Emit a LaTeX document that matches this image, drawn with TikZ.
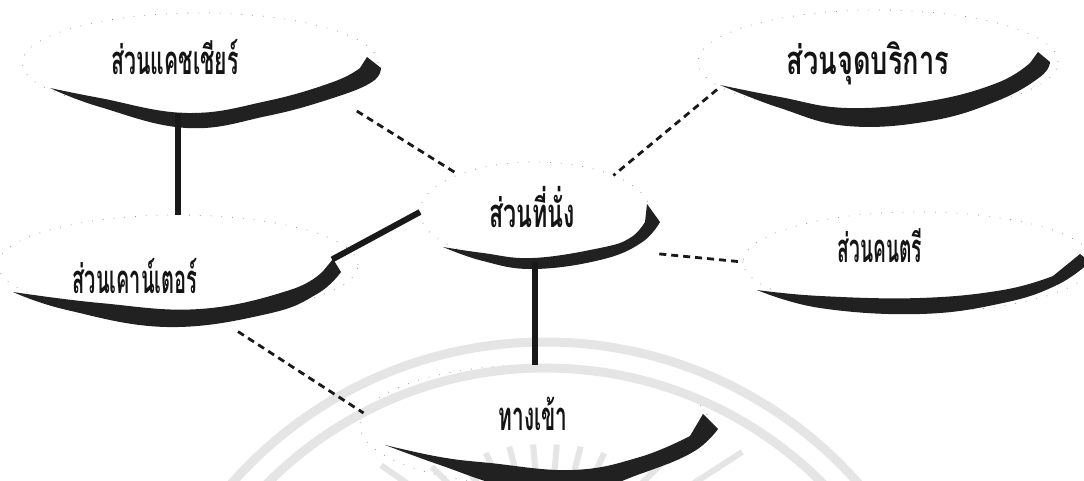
\documentclass[tikz,border=0pt]{standalone}
\usepackage{fontspec}
\newfontfamily\thaifont[Script=Thai]{Loma}
\usetikzlibrary{shapes.geometric}
\newcommand{\sq}[2]{\scalebox{#1}[1]{#2}}
\begin{document}
\begin{tikzpicture}[x=1pt,y=-1pt,
  zone/.style={ellipse, fill=white, draw=black!40, line width=0.8pt,
    dash pattern=on 0.8pt off 10pt, inner sep=0pt, outer sep=0pt},
  crescent/.style={fill=black!87},
  lbl/.style={font=\thaifont\bfseries\fontsize{40}{46}\selectfont, anchor=base,
    inner sep=0pt, text=black!92},
  solidlink/.style={line width=6pt, draw=black!90},
  dashlink/.style={line width=2.8pt, draw=black!90, dash pattern=on 7pt off 5pt},
  wm/.style={draw=black!10, line width=9pt},
  wmray/.style={draw=black!10, line width=6pt}
]
\useasboundingbox (0,0) rectangle (1084,481);
\clip (0,0) rectangle (1084,481);
\fill[white] (0,0) rectangle (1084,481);

% zones
\node[zone, minimum width=356pt, minimum height=100pt] (e1) at (200,63) {};
\node[zone, minimum width=360pt, minimum height=104pt] (e2) at (878,62) {};
\node[zone, minimum width=360pt, minimum height=100pt] (e3) at (178,265) {};
\node[zone, minimum width=230pt, minimum height=100pt] (e4) at (535,212) {};
\node[zone, minimum width=350pt, minimum height=100pt] (e5) at (918,262) {};
\node[zone, minimum width=350pt, minimum height=120pt] (e6) at (535,425) {};

% faint watermark (overlaid on the white zones)
\draw[wm] (545,760) circle[radius=418];
\draw[wm] (545,760) circle[radius=392];
\foreach \a/\r in {215/200,225/160,235/145,245/140,255/138,265/136,275/136,285/138,295/140,305/145,315/165,327/235}
  \draw[wmray] (545,580) ++(\a:90) -- ++(\a:{\r-90});

% crescent shadows
\fill[crescent] plot[smooth, tension=0.7] coordinates {(50,88) (100,107) (187,128) (267,116) (333,98) (372,82) (381,68)}
  -- (367,57) -- plot[smooth, tension=0.7] coordinates {(360,68) (333,82) (267,101) (187,113) (100,98) (50,88)} -- cycle;
\fill[crescent] plot[smooth, tension=0.7] coordinates {(720,85) (780,108) (847,126) (930,121) (997,101) (1040,77) (1050,62)}
  -- (1038,52) -- plot[smooth, tension=0.7] coordinates {(1030,63) (997,83) (930,101) (847,108) (780,97) (720,85)} -- cycle;
\fill[crescent] plot[smooth, tension=0.7] coordinates {(13,292) (67,310) (167,327) (267,314) (317,294) (341,272)}
  -- (333,259) -- plot[smooth, tension=0.7] coordinates {(324,270) (290,290) (200,309) (100,303) (13,292)} -- cycle;
\fill[crescent] plot[smooth, tension=0.7] coordinates {(443,247) (483,261) (533,269) (600,260) (641,243) (660,222)}
  -- (647,204) -- plot[smooth, tension=0.7] coordinates {(645,222) (630,238) (600,248) (533,258) (483,253) (443,247)} -- cycle;
\fill[crescent] plot[smooth, tension=0.7] coordinates {(757,290) (820,308) (920,314) (1003,303) (1057,285) (1090,262)}
  -- (1080,254) -- plot[smooth, tension=0.7] coordinates {(1053,276) (1003,290) (920,298) (820,296) (757,290)} -- cycle;
\fill[crescent] plot[smooth, tension=0.7] coordinates {(385,445) (440,465) (507,487) (573,495) (640,474) (693,452) (718,429)}
  -- (703,414) -- plot[smooth, tension=0.7] coordinates {(690,436) (640,457) (573,470) (490,463) (440,457) (385,445)} -- cycle;

% labels
\node[lbl] (t1) at (175,75) {\sq{0.53}{ส่วนแคชเชียร์}};
\node[lbl] (t2) at (868,75) {\sq{0.68}{ส่วนจุดบริการ}};
\node[lbl] (t3) at (135,293) {\sq{0.50}{ส่วนเคาน์เตอร์}};
\node[lbl] (t4) at (532,227) {\sq{0.58}{ส่วนที่นั่ง}};
\node[lbl] (t5) at (880,262) {\sq{0.48}{ส่วนคนตรี}};
\node[lbl] (t6) at (533,430) {\sq{0.52}{ทางเข้า}};

% connectors
\draw[solidlink] (e1.south -| e3.north) -- (e3.north);
\draw[solidlink] (e4.south) -- (e6.north);
\draw[solidlink, shorten <=-20pt] (e3.5) -- (e4.west);
\draw[dashlink, shorten <=28pt] (e1.-14) -- (e4.154);
\draw[dashlink, shorten <=4pt] (e2.189) -- (e4.25);
\draw[dashlink, shorten <=48pt] (e4.-26) -- (e5.west);
\draw[dashlink, shorten <=32pt] (e3.-56) -- (e6.176);
\end{tikzpicture}
\end{document}
